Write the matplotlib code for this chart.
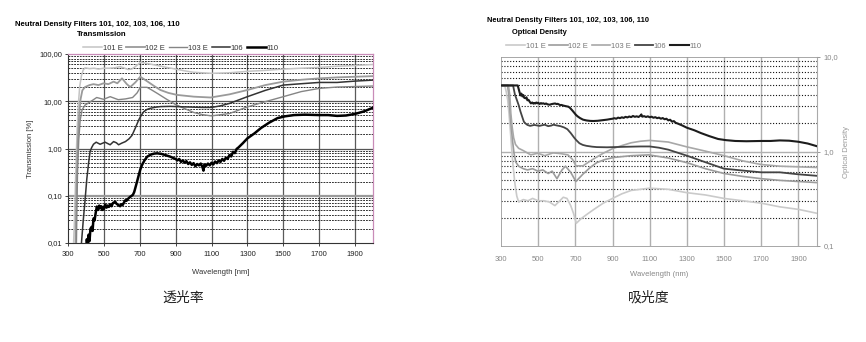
import numpy as np
import matplotlib
matplotlib.use("Agg")
import matplotlib.pyplot as plt
from matplotlib.ticker import NullFormatter, LogLocator

plt.rcParams['font.family'] = ['Liberation Sans', 'DejaVu Sans']

W, H = 866, 342

# ---- data (T in %) ----
wl_101 = [300, 320, 328, 336, 343, 350, 357, 365, 375, 385, 395, 420, 445, 470, 500, 530, 560,
          590, 610, 635, 655, 675, 690, 705, 730, 760, 800, 850, 900, 950, 1000, 1100, 1200,
          1300, 1400, 1500, 1600, 1700, 1800, 1900, 2000]
t_101 = [0.001, 0.001, 0.005, 0.03, 0.3, 2, 8, 20, 35, 46, 51, 49, 50, 48, 50, 50, 51,
         54, 51, 47, 48, 54, 60, 67, 64, 61, 57, 52, 48, 44, 41, 39, 40,
         43, 45, 48, 50, 52, 55, 57, 60]

wl_102 = [300, 335, 342, 348, 355, 362, 370, 380, 395, 420, 442, 470, 498, 525, 554, 575,
          601, 628, 647, 675, 703, 741, 780, 815, 860, 909, 1002, 1095, 1200, 1300, 1400,
          1500, 1600, 1700, 1800, 1900, 2000]
t_102 = [0.001, 0.001, 0.01, 0.2, 1.5, 5, 11, 17, 20, 22, 23, 22, 24, 23, 26, 24,
         30.5, 23, 20, 25, 33, 26.5, 21, 17.3, 15, 13.6, 12.5, 12, 14, 17.3, 22,
         26, 28.5, 30.5, 32, 33, 34]

wl_103 = [300, 340, 347, 353, 360, 368, 378, 395, 420, 460, 498, 535, 580, 620, 660, 685,
          703, 741, 770, 800, 850, 900, 950, 1000, 1050, 1100, 1200, 1300, 1400, 1500,
          1600, 1700, 1800, 1900, 2000]
t_103 = [0.001, 0.001, 0.01, 0.3, 1.5, 4, 6.5, 8.3, 9.5, 12, 11, 12.5, 10.8, 11.2, 12, 15,
         19.7, 19.7, 17, 14.5, 11, 8.5, 7, 5.8, 5.2, 4.9, 5.5, 7.6, 9.8, 12.5,
         16, 18.7, 20, 20.5, 21]

wl_106 = [300, 365, 375, 385, 395, 405, 415, 423, 432, 442, 457, 479, 494, 507, 520, 535,
          554, 570, 582, 600, 620, 640, 657, 675, 694, 705, 722, 740, 759, 790, 815, 870,
          950, 1000, 1050, 1100, 1150, 1200, 1300, 1400, 1500, 1600, 1700, 1800, 1900, 2000]
t_106 = [0.001, 0.001, 0.01, 0.03, 0.08, 0.23, 0.5, 0.86, 1.05, 1.23, 1.36, 1.23, 1.3, 1.36, 1.28, 1.2,
         1.4, 1.32, 1.2, 1.3, 1.4, 1.6, 1.9, 2.7, 4.0, 4.8, 6.0, 6.7, 7.1, 7.5, 7.7, 7.8,
         7.6, 7.5, 7.4, 7.4, 8.0, 9.0, 12.5, 17, 22, 23.5, 25, 25, 26.7, 28]

wl_110 = [300, 390, 400, 405, 410, 415, 420, 425, 432, 437, 442, 448, 455, 461, 468, 474, 479,
          485, 490, 495, 500, 507, 515, 520, 528, 535, 543, 550, 556, 563, 570, 577, 584, 591,
          598, 605, 612, 619, 626, 633, 640, 647, 655, 662, 669, 675, 685, 694, 703, 713, 725,
          741, 760, 780, 797, 820, 845, 871, 890, 900, 910, 920, 930, 940, 950, 960, 970, 980,
          990, 1000, 1010, 1020, 1030, 1040, 1050, 1055, 1060, 1070, 1080, 1090, 1100, 1110,
          1120, 1130, 1140, 1150, 1160, 1170, 1180, 1190, 1200, 1210, 1220, 1230, 1240, 1250,
          1275, 1300, 1340, 1375, 1420, 1468, 1510, 1560, 1620, 1700, 1750, 1800, 1850, 1900,
          1950, 2000]
t_110 = [0.001, 0.001, 0.006, 0.012, 0.008, 0.015, 0.011, 0.02, 0.022, 0.018, 0.033, 0.03, 0.045,
         0.059, 0.05, 0.062, 0.055, 0.06, 0.05, 0.058, 0.052, 0.065, 0.056, 0.062, 0.058, 0.066,
         0.06, 0.07, 0.072, 0.075, 0.068, 0.065, 0.062, 0.06, 0.066, 0.064, 0.072, 0.08, 0.078,
         0.085, 0.09, 0.095, 0.1, 0.105, 0.12, 0.145, 0.2, 0.27, 0.36, 0.45, 0.55, 0.67, 0.74,
         0.78, 0.79, 0.77, 0.72, 0.67, 0.62, 0.6, 0.56, 0.6, 0.52, 0.56, 0.5, 0.54, 0.47, 0.51,
         0.45, 0.49, 0.42, 0.47, 0.44, 0.48, 0.4, 0.34, 0.46, 0.43, 0.48, 0.44, 0.5, 0.46,
         0.53, 0.49, 0.56, 0.52, 0.6, 0.55, 0.64, 0.6, 0.73, 0.68, 0.85, 0.8, 0.98, 1.05,
         1.3, 1.64, 2.1, 2.7, 3.5, 4.4, 4.8, 5.1, 5.2, 5.1, 5.1, 4.9, 5.0, 5.4,
         6.1, 7.3]

labels = ["101 E", "102 E", "103 E", "106", "110"]
series = [(wl_101, t_101), (wl_102, t_102), (wl_103, t_103), (wl_106, t_106), (wl_110, t_110)]

x_ticks = [300, 500, 700, 900, 1100, 1300, 1500, 1700, 1900]
t_ticks = [0.01, 0.1, 1, 10, 100]
t_tick_labels = ["0,01", "0,10", "1,00", "10,00", "100,00"]
od_ticks = [0.1, 1, 10]
od_tick_labels = ["0,1", "1,0", "10,0"]
od_max = 5.0

colors_t = ["#c4c4c4", "#9a9a9a", "#858585", "#333333", "#000000"]
widths_t = [1.1, 1.3, 1.0, 1.1, 1.8]
colors_od = ["#cacaca", "#9c9c9c", "#a8a8a8", "#444444", "#1c1c1c"]
widths_od = [1.2, 1.2, 1.2, 1.3, 1.5]


def px(x, y):
    return x / W, 1 - y / H


def box(l, t, r, b):
    return [l / W, 1 - b / H, (r - l) / W, (b - t) / H]


fig = plt.figure(figsize=(W / 100, H / 100), dpi=100)
fig.patch.set_facecolor("white")

# ---------------- left: transmission ----------------
ax1 = fig.add_axes(box(68, 54, 373, 243))
for (wl, t), c, lw, lab in zip(series, colors_t, widths_t, labels):
    ax1.plot(wl, t, color=c, lw=lw, label=lab, zorder=3)
ax1.set_yscale("log")
ax1.set_xlim(300, 2000)
ax1.set_ylim(0.01, 100)
ax1.set_xticks(x_ticks)
ax1.set_yticks(t_ticks)
ax1.set_yticklabels(t_tick_labels)
ax1.yaxis.set_minor_locator(LogLocator(base=10, subs=np.arange(2, 10)))
ax1.yaxis.set_minor_formatter(NullFormatter())
ax1.tick_params(axis="both", which="major", labelsize=5.5, length=2, width=0.6,
                colors="#222222", pad=2)
ax1.tick_params(axis="x", which="major", pad=4)
ax1.tick_params(axis="y", which="minor", length=0)
ax1.grid(True, which="minor", axis="y", color="#111111", lw=0.6, ls=(0, (2.2, 1.2)))
for v in x_ticks[1:]:
    ax1.axvline(v, color="#5a5a5a", lw=0.9, zorder=1)
for h, c, lw in [(10, "#555555", 0.9), (1, "#555555", 0.9), (0.1, "#9a9a9a", 1.6)]:
    ax1.axhline(h, color=c, lw=lw, zorder=1)
for s in ["left", "bottom"]:
    ax1.spines[s].set_color("#333333")
    ax1.spines[s].set_linewidth(0.8)
for s in ["top", "right"]:
    ax1.spines[s].set_color("#c98cb8")
    ax1.spines[s].set_linewidth(0.9)
ax1.set_xlabel("Wavelength [nm]", fontsize=5.5, color="#333333", labelpad=8)
ax1.set_ylabel("Transmission [%]", fontsize=5.5, color="#333333", labelpad=4)

fig.text(*px(15, 25), "Neutral Density Filters 101, 102, 103, 106, 110",
         fontsize=5.6, fontweight="bold", va="center", ha="left")
fig.text(*px(77, 35), "Transmission", fontsize=5.6, fontweight="bold", va="center", ha="left")
h1, l1 = ax1.get_legend_handles_labels()
fig.legend(h1, l1, loc="center", bbox_to_anchor=px(181, 48), ncol=5, frameon=False,
           fontsize=5.5, handlelength=2.4, handletextpad=0.1, columnspacing=0.5,
           labelcolor="#333333")
fig.text(*px(183, 298), "透光率", fontsize=10, ha="center", va="center",
         family=["Noto Sans CJK SC", "DejaVu Sans"], color="#222222")

# ---------------- right: optical density ----------------
ax2 = fig.add_axes(box(501, 57, 817, 246))
for (wl, t), c, lw, lab in zip(series, colors_od, widths_od, labels):
    od = np.minimum(-np.log10(np.array(t) / 100.0), od_max)
    ax2.plot(wl, od, color=c, lw=lw, label=lab, zorder=3)
ax2.set_yscale("log")
ax2.set_xlim(300, 2000)
ax2.set_ylim(0.1, 10)
ax2.set_xticks(x_ticks)
ax2.yaxis.tick_right()
ax2.yaxis.set_label_position("right")
ax2.set_yticks(od_ticks)
ax2.set_yticklabels(od_tick_labels)
ax2.yaxis.set_minor_locator(LogLocator(base=10, subs=np.arange(2, 10)))
ax2.yaxis.set_minor_formatter(NullFormatter())
ax2.tick_params(axis="both", which="major", labelsize=5.5, length=2, width=0.6,
                colors="#888888", pad=3)
ax2.tick_params(axis="x", which="major", length=0, pad=7)
ax2.tick_params(axis="y", which="minor", length=0)
ax2.grid(True, which="minor", axis="y", color="#111111", lw=0.8, ls=(0, (1, 1.6)))
for v in x_ticks[1:]:
    ax2.axvline(v, color="#b0b0b0", lw=1.0, zorder=1)
ax2.axhline(1, color="#b0b0b0", lw=1.0, zorder=1)
for s in ["left", "top", "bottom"]:
    ax2.spines[s].set_color("#999999")
    ax2.spines[s].set_linewidth(0.6)
    ax2.spines[s].set_linestyle((0, (1, 1)))
ax2.spines["right"].set_color("#aaaaaa")
ax2.spines["right"].set_linewidth(0.8)
ax2.set_xlabel("Wavelength (nm)", fontsize=5.5, color="#888888", labelpad=6)
ax2.set_ylabel("Optical Density", fontsize=5.5, color="#999999", labelpad=3)

fig.text(*px(487, 21), "Neutral Density Filters 101, 102, 103, 106, 110",
         fontsize=5.4, fontweight="bold", va="center", ha="left")
fig.text(*px(512, 32), "Optical Density", fontsize=5.4, fontweight="bold", va="center", ha="left")
h2, l2 = ax2.get_legend_handles_labels()
fig.legend(h2, l2, loc="center", bbox_to_anchor=px(604, 46), ncol=5, frameon=False,
           fontsize=5.5, handlelength=2.4, handletextpad=0.1, columnspacing=0.5,
           labelcolor="#777777")
fig.text(*px(649, 298), "吸光度", fontsize=10, ha="center", va="center",
         family=["Noto Sans CJK SC", "DejaVu Sans"], color="#222222")

fig.savefig("out.png", dpi=100, facecolor="white")
